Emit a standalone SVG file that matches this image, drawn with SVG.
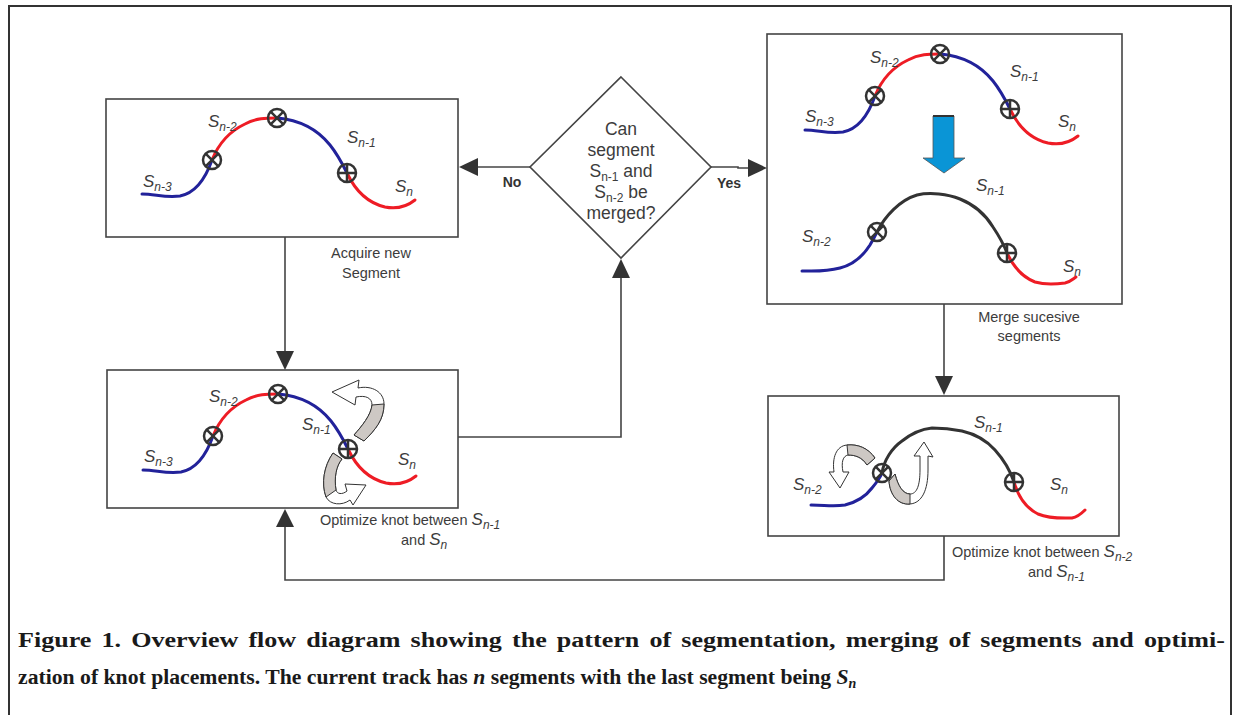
<svg xmlns="http://www.w3.org/2000/svg" width="1233" height="715" viewBox="0 0 1233 715">
<style>
.frame{fill:none;stroke:#333;stroke-width:2}
.box{fill:#fff;stroke:#444;stroke-width:1.6}
.wire{fill:none;stroke:#444;stroke-width:1.6}
.head{fill:#333}
.blue{fill:none;stroke:#22229a;stroke-width:3;stroke-linecap:round;stroke-linejoin:round}
.red{fill:none;stroke:#ee1c25;stroke-width:3;stroke-linecap:round;stroke-linejoin:round}
.blk{fill:none;stroke:#333;stroke-width:3;stroke-linecap:round;stroke-linejoin:round}
.knot{fill:none;stroke:#333;stroke-width:2.5}
.lab{font-family:"Liberation Sans",Arial,sans-serif;fill:#3c3c3c}
.s{font-style:italic;font-size:17px}
.note{font-size:14.5px}
.yn{font-weight:bold;font-size:14px;fill:#333}
.rib{fill:#cdc8c4;stroke:#333;stroke-width:1}
.ribw{fill:#fff;stroke:#333;stroke-width:1}
.cap{font-family:"Liberation Serif","Times New Roman",serif;font-weight:bold;font-size:21.7px;fill:#1a1a1a}
</style>
<defs>
  <g id="kx" class="knot"><circle r="9"/><path d="M-6.4,-6.4L6.4,6.4M-6.4,6.4L6.4,-6.4"/></g>
  <g id="kp" class="knot"><circle r="9"/><path d="M-9,0H9M0,-9V9"/></g>
  <!-- four-segment track: S(n-3), S(n-2), S(n-1), S(n) with three knots -->
  <g id="track4">
    <path class="blue" d="M142,194 C155,194 165,198 180,196 C195,193 205,180 212,160"/>
    <path class="red" d="M212,160 C218,145 228,132 245,124 C256,118 266,118 277,118"/>
    <path class="blue" d="M277,118 C300,120 318,130 330,145 C338,155 343,165 347,173"/>
    <path class="red" d="M347,173 C355,190 368,203 385,207 C395,209 405,208 415,200"/>
    <use href="#kx" x="212" y="160"/>
    <use href="#kx" x="277" y="118"/>
    <use href="#kp" x="347" y="173"/>
  </g>
</defs>

<rect class="frame" x="9" y="6" width="1222" height="720"/>

<!-- connectors -->
<g id="connectors">
  <path class="wire" d="M530,167H478"/>
  <polygon class="head" points="459,167 478,158 478,176"/>
  <path class="wire" d="M711,167H738V168H748"/>
  <polygon class="head" points="767,168 748,159 748,177"/>
  <path class="wire" d="M285,237V351"/>
  <polygon class="head" points="285,370 276,351 294,351"/>
  <path class="wire" d="M458,437H621V278"/>
  <polygon class="head" points="621,259 612,278 630,278"/>
  <path class="wire" d="M944,304V376"/>
  <polygon class="head" points="944,395 935,376 953,376"/>
  <path class="wire" d="M944,536V580H285V527"/>
  <polygon class="head" points="285,509 276,527 294,527"/>
  <text class="lab yn" x="512" y="187" text-anchor="middle">No</text>
  <text class="lab yn" x="729" y="188" text-anchor="middle">Yes</text>
</g>

<!-- acquire new segment -->
<g id="acquire">
  <rect class="box" x="106" y="99" width="352" height="138"/>
  <use href="#track4"/>
  <text class="lab s" x="208" y="127">S<tspan font-size="12" dy="4">n-2</tspan></text>
  <text class="lab s" x="347" y="143">S<tspan font-size="12" dy="4">n-1</tspan></text>
  <text class="lab s" x="143" y="187">S<tspan font-size="12" dy="4">n-3</tspan></text>
  <text class="lab s" x="395" y="192">S<tspan font-size="12" dy="4">n</tspan></text>
  <text class="lab note" x="371" y="258" text-anchor="middle">Acquire new</text>
  <text class="lab note" x="371" y="278" text-anchor="middle">Segment</text>
</g>

<!-- merge decision -->
<g id="decision">
  <path class="box" d="M621,77L711,167L621,258L530,167Z"/>
  <g class="lab" font-size="17.5" text-anchor="middle">
    <text x="621" y="135">Can</text>
    <text x="621" y="156">segment</text>
    <text x="621" y="177">S<tspan font-size="12" dy="4">n-1</tspan><tspan dy="-4"> and</tspan></text>
    <text x="621" y="198">S<tspan font-size="12" dy="4">n-2</tspan><tspan dy="-4"> be</tspan></text>
    <text x="621" y="219">merged?</text>
  </g>
</g>

<!-- merge successive segments -->
<g id="merge">
  <rect class="box" x="767" y="34" width="355" height="270"/>
  <use href="#track4" transform="translate(663,-64)"/>
  <text class="lab s" x="870" y="63">S<tspan font-size="12" dy="4">n-2</tspan></text>
  <text class="lab s" x="1010" y="77">S<tspan font-size="12" dy="4">n-1</tspan></text>
  <text class="lab s" x="805" y="122">S<tspan font-size="12" dy="4">n-3</tspan></text>
  <text class="lab s" x="1058" y="127">S<tspan font-size="12" dy="4">n</tspan></text>
  <path d="M933,116H954V158H965L944,173L923,158H933Z" fill="#0a95d6" stroke="#555" stroke-width="0.8"/>
  <path d="M933,116H954" stroke="#333" stroke-width="2"/>
  <path class="blue" d="M802,271 C815,271 825,272 840,268 C852,265 863,256 870,245 C873,240 875,236 877,232"/>
  <path class="blk" d="M877,232 C885,216 900,200 917,195 C930,192 948,194 960,199 C975,205 985,214 993,227 C999,236 1004,245 1007,253"/>
  <path class="red" d="M1007,253 C1013,266 1022,277 1035,282 C1045,285 1058,284 1065,283 C1070,282 1073,279 1076,277"/>
  <use href="#kx" x="877" y="232"/>
  <use href="#kp" x="1007" y="253"/>
  <text class="lab s" x="976" y="191">S<tspan font-size="12" dy="4">n-1</tspan></text>
  <text class="lab s" x="802" y="242">S<tspan font-size="12" dy="4">n-2</tspan></text>
  <text class="lab s" x="1063" y="272">S<tspan font-size="12" dy="4">n</tspan></text>
  <text class="lab note" x="1029" y="322" text-anchor="middle">Merge sucesive</text>
  <text class="lab note" x="1029" y="341" text-anchor="middle">segments</text>
</g>

<!-- optimize knot between S(n-1) and S(n) -->
<g id="optimize-last">
  <rect class="box" x="107" y="370" width="351" height="138"/>
  <use href="#track4" transform="translate(1,276)"/>
  <text class="lab s" x="209" y="402">S<tspan font-size="12" dy="4">n-2</tspan></text>
  <text class="lab s" x="302" y="430">S<tspan font-size="12" dy="4">n-1</tspan></text>
  <text class="lab s" x="144" y="462">S<tspan font-size="12" dy="4">n-3</tspan></text>
  <text class="lab s" x="398" y="465">S<tspan font-size="12" dy="4">n</tspan></text>
  <path class="ribw" d="M364,441 C375,430 384,420 384,404 C384,392 372,385 358,388 L359,380 L332,392 L355,405 L356,397 C366,395 372,398 372,405 C371,415 362,426 354,435 Z"/>
  <path class="rib" d="M364,441 C375,430 384,420 384,404 L372,405 C371,415 362,426 354,435 Z"/>
  <path class="ribw" d="M333,453 C324,466 321,483 326,497 C330,505 342,506 350,500 L353,505 L366,485 L345,484 L347,491 C342,495 337,494 336,490 C334,478 336,466 342,459 Z"/>
  <path class="rib" d="M333,453 C324,466 321,483 326,497 L336,490 C334,478 336,466 342,459 Z"/>
  <text class="lab note" x="320" y="525">Optimize  knot between <tspan class="s">S<tspan font-size="12" dy="4">n-1</tspan></tspan></text>
  <text class="lab note" x="401" y="545">and <tspan class="s">S<tspan font-size="12" dy="4">n</tspan></tspan></text>
</g>

<!-- optimize knot between S(n-2) and S(n-1) -->
<g id="optimize-merged">
  <rect class="box" x="768" y="396" width="351" height="140"/>
  <path class="blue" d="M811,505 C825,505 833,507 845,505 C857,502 866,496 872,488 C877,482 880,478 882,473"/>
  <path class="blk" d="M882,473 C884,460 892,448 902,441 C912,433 922,429 932,428 C942,428 952,429 962,431 C975,434 987,441 995,450 C1004,460 1010,470 1014,482"/>
  <path class="red" d="M1014,482 C1018,496 1026,508 1038,514 C1050,519 1062,518 1072,518 C1078,517 1082,513 1085,510"/>
  <path class="ribw" d="M875,458 C868,448 858,444 847,445 C836,446 832,458 834,472 L829,472 L840,488 L849,472 L843,472 C841,462 843,456 848,455 C855,455 862,457 867,465 Z"/>
  <path class="rib" d="M875,458 C868,448 858,444 847,445 L848,455 C855,455 862,457 867,465 Z"/>
  <path class="ribw" d="M889,481 C890,495 898,505 910,504 C922,503 928,490 928,470 L928,456 L933,457 L924,442 L914,456 L920,456 L920,470 C920,485 917,494 910,494 C903,494 898,486 895,474 Z"/>
  <path class="rib" d="M889,481 C890,495 898,505 910,504 L910,494 C903,494 898,486 895,474 Z"/>
  <use href="#kx" x="882" y="473"/>
  <use href="#kp" x="1014" y="482"/>
  <text class="lab s" x="974" y="428">S<tspan font-size="12" dy="4">n-1</tspan></text>
  <text class="lab s" x="793" y="490">S<tspan font-size="12" dy="4">n-2</tspan></text>
  <text class="lab s" x="1050" y="490">S<tspan font-size="12" dy="4">n</tspan></text>
  <text class="lab note" x="952" y="557">Optimize  knot between <tspan class="s">S<tspan font-size="12" dy="4">n-2</tspan></tspan></text>
  <text class="lab note" x="1028" y="577">and <tspan class="s">S<tspan font-size="12" dy="4">n-1</tspan></tspan></text>
</g>

<!-- figure caption -->
<g id="caption">
  <text class="cap" x="18" y="647" font-size="22" word-spacing="3" textLength="1207" lengthAdjust="spacingAndGlyphs">Figure 1. Overview flow diagram showing the pattern of segmentation, merging of segments and optimi-</text>
  <text class="cap" x="18" y="684">zation of knot placements. The current track has <tspan font-style="italic">n</tspan> segments with the last segment being <tspan font-style="italic">S<tspan font-size="14" dy="4">n</tspan></tspan></text>
</g>
</svg>
